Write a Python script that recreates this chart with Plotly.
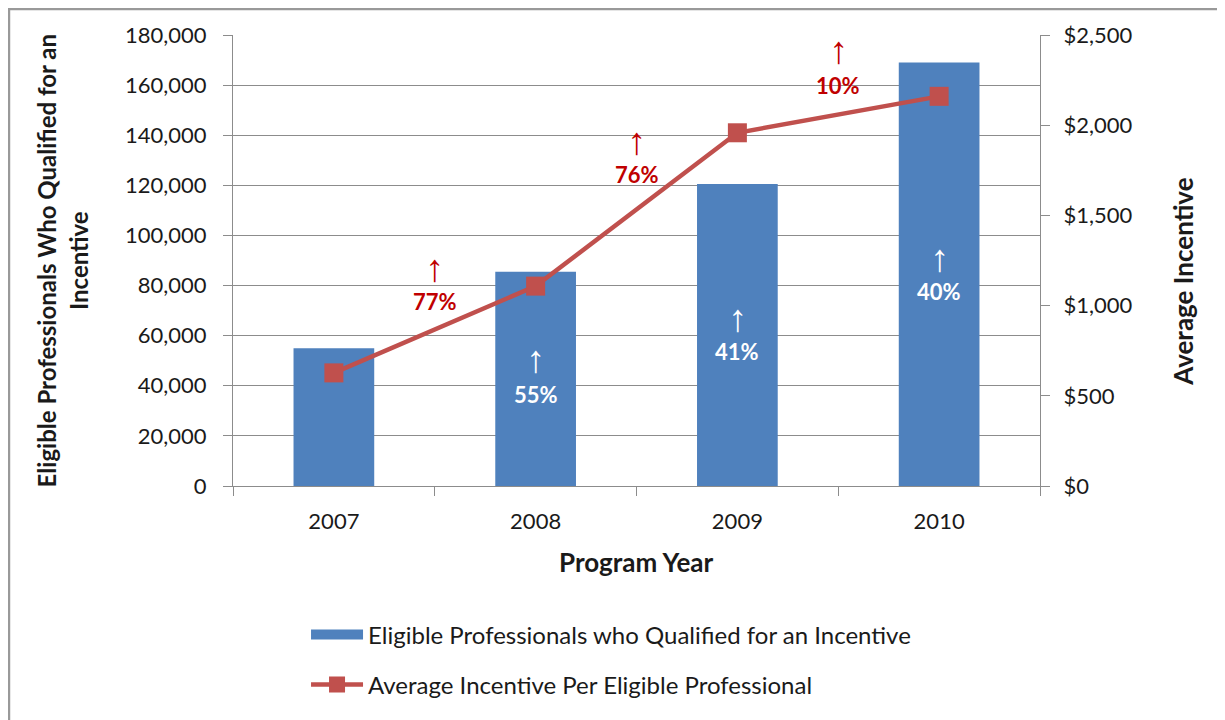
import plotly.graph_objects as go

# ---- data ----
years = [2007, 2008, 2009, 2010]
year_labels = ["2007", "2008", "2009", "2010"]
qualified = [55000, 85500, 120500, 169000]
avg_incentive = [627, 1108, 1958, 2160]
incentive_growth = ["77%", "76%", "10%"]
qualified_growth = ["55%", "41%", "40%"]
bar_name = "Eligible Professionals who Qualified for an Incentive"
line_name = "Average Incentive Per Eligible Professional"

FONT = "Lato, Carlito, 'Liberation Sans', sans-serif"
ARROW_FONT = "'Liberation Sans', 'DejaVu Sans', sans-serif"
BLUE = "#4F81BD"
RED_LINE = "#C0504D"
RED_TXT = "#C00000"
GRID = "#8C8C8C"
TXT = "#1a1a1a"

fig = go.Figure()
fig.add_trace(go.Bar(
    x=years, y=qualified, name=bar_name, marker=dict(color=BLUE, line=dict(width=0)),
    width=0.4, showlegend=False, legendgroup="bars", yaxis="y"))
# legend entry for the bars (wide rectangle swatch like the original)
fig.add_trace(go.Scatter(
    x=[None], y=[None], name=bar_name, mode="lines", legendgroup="bars",
    line=dict(color=BLUE, width=15), legend="legend", yaxis="y", hoverinfo="skip"))
fig.add_trace(go.Scatter(
    x=years, y=avg_incentive, name=line_name, mode="lines+markers",
    line=dict(color=RED_LINE, width=4.5), marker=dict(symbol="square", size=19, color=RED_LINE),
    legend="legend2", yaxis="y2"))

annotations = []
# red growth labels between years (placed in left-axis units)
red_arrow_y = [87000, 137700, 174000]
red_pct_y = [73800, 124500, 160000]
for i, lab in enumerate(incentive_growth):
    xm = (years[i] + years[i + 1]) / 2
    annotations.append(dict(x=xm, y=red_arrow_y[i], xref="x", yref="y", text="↑",
                            showarrow=False, font=dict(family=ARROW_FONT, size=38, color=RED_TXT)))
    annotations.append(dict(x=xm, y=red_pct_y[i], xref="x", yref="y", text="<b>%s</b>" % lab,
                            showarrow=False, font=dict(family=FONT, size=22, color=RED_TXT)))
white_arrow_y = [50700, 67000, 91000]
white_pct_y = [36700, 53500, 77800]
for i, lab in enumerate(qualified_growth):
    annotations.append(dict(x=years[i + 1], y=white_arrow_y[i], xref="x", yref="y", text="↑",
                            showarrow=False, font=dict(family=ARROW_FONT, size=38, color="white")))
    annotations.append(dict(x=years[i + 1], y=white_pct_y[i], xref="x", yref="y", text="<b>%s</b>" % lab,
                            showarrow=False, font=dict(family=FONT, size=22, color="white")))

# axis titles
annotations.append(dict(x=0.5, y=-0.168, xref="paper", yref="paper", xanchor="center", yanchor="middle",
                        text="<b>Program Year</b>",
                        showarrow=False, font=dict(family=FONT, size=26, color=TXT)))
annotations.append(dict(x=-0.212, y=0.5, xref="paper", yref="paper", xanchor="center", yanchor="middle",
                        text="<b>Eligible Professionals Who Qualified for an<br>Incentive</b>",
                        textangle=-90, showarrow=False, font=dict(family=FONT, size=24, color=TXT)))
annotations.append(dict(x=1.178, y=0.452, xref="paper", yref="paper", xanchor="center", yanchor="middle",
                        text="<b>Average Incentive</b>",
                        textangle=-90, showarrow=False, font=dict(family=FONT, size=26, color=TXT)))

fig.update_layout(
    width=1217, height=712,
    margin=dict(l=225, r=185, t=27, b=234),
    paper_bgcolor="white", plot_bgcolor="white",
    font=dict(family=FONT, size=22, color=TXT),
    xaxis=dict(range=[2006.5, 2010.5], tickvals=years, ticktext=year_labels, ticks="",
               minor=dict(tick0=2006.5, dtick=1, ticks="outside", ticklen=9, tickcolor=GRID, showgrid=False),
               showline=True, linecolor=GRID, linewidth=1, showgrid=False, zeroline=False,
               tickfont=dict(size=22, color=TXT), ticklabelstandoff=16),
    yaxis=dict(range=[0, 180000], dtick=20000, tickformat=",", showgrid=True, gridcolor=GRID,
               gridwidth=1, showline=True, linecolor=GRID, ticks="outside", ticklen=9,
               tickcolor=GRID, tickfont=dict(size=22, color=TXT), ticklabelstandoff=12, zeroline=False),
    yaxis2=dict(range=[0, 2500], dtick=500, tickprefix="$", tickformat=",", overlaying="y",
                side="right", showgrid=False, showline=True, linecolor=GRID, ticks="outside",
                ticklen=9, tickcolor=GRID, tickfont=dict(size=22, color=TXT), ticklabelstandoff=9,
                zeroline=False),
    showlegend=True,
    legend=dict(x=0.0905, y=-0.280, xanchor="left", yanchor="top", orientation="h",
                font=dict(size=24, color=TXT), itemwidth=52, bgcolor="rgba(0,0,0,0)"),
    legend2=dict(x=0.0905, y=-0.391, xanchor="left", yanchor="top", orientation="h",
                 font=dict(size=24, color=TXT), itemwidth=52, bgcolor="rgba(0,0,0,0)"),
    annotations=annotations,
    shapes=[dict(type="rect", xref="paper", yref="paper", x0=-0.2776, x1=1.2268, y0=-0.7, y1=1.0576,
                 line=dict(color="#999999", width=2.5), fillcolor="rgba(0,0,0,0)", layer="below")],
)

fig.write_html("out.html")
